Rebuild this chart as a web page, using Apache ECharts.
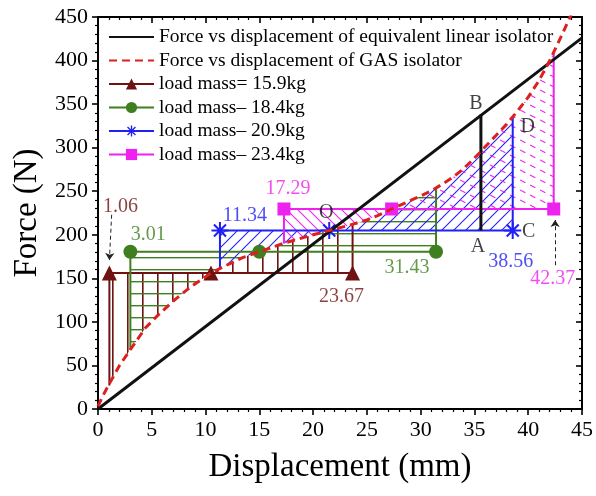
<!DOCTYPE html>
<html>
<head>
<meta charset="utf-8">
<script src="https://cdn.jsdelivr.net/npm/echarts@6/dist/echarts.min.js"></script>
<style>html,body{margin:0;padding:0;background:#fff}#c{width:596px;height:496px}</style>
</head>
<body>
<div id="c"></div>
<script>
// ---- data ----
const gasX = [0, 0.4, 1.1, 2.0, 3.0, 4.4, 5.6, 7.1, 8.7, 10.5, 11.6, 13.5, 15.0, 17.2, 19.4, 21.5, 23.4, 25, 26, 27.3, 28, 29, 30, 31, 32, 33, 34, 35, 36, 37, 38, 39, 40, 41, 42, 43, 44];
const gasY = [3, 14, 30, 50, 68, 93, 108, 125, 141, 156, 163, 174, 180.5, 190, 198, 205, 211, 217, 222, 229.6, 233.5, 239, 244.5, 250.5, 258, 266, 276, 288, 301, 314, 327, 342, 358, 377, 400, 426, 453];
const linearX = [0, 45];
const linearY = [0, 426];
const lineNames = ['Force vs displacement of equivalent linear isolator', 'Force vs displacement of GAS isolator'];
const massNames = ['load mass= 15.9kg', 'load mass\u2013 18.4kg', 'load mass\u2013 20.9kg', 'load mass\u2013 23.4kg'];
const loadForce = [156, 180.5, 205, 229.6];
const startX = [1.06, 3.01, 11.34, 17.29];
const eqX = [10.5, 15.0, 21.5, 27.3];
const endX = [23.67, 31.43, 38.56, 42.37];
const startCurveY = [27, 68, 161, 190];
const endCurveY = [211, 254, 334, 410];
const abX = 35.6;
const abY = [205, 338];
const arrow1 = [[1.27, 223], [1.06, 171]];
const arrow2 = [[42.5, 165], [42.5, 217]];
const xMin = 0, xMax = 45, xStep = 5;
const yMin = 0, yMax = 450, yStep = 50;

// ---- styles ----
const FONT = 'Liberation Serif';
const COLORS = ['#6e1212', '#3f7f1f', '#2020f5', '#ee22ee'];
const SYMBOLS = ['triangle', 'circle',
  'path://M-10,-1.2L10,-1.2L10,1.2L-10,1.2Z M-1.2,-10L1.2,-10L1.2,10L-1.2,10Z M-6.22,-7.92L7.92,6.22L6.22,7.92L-7.92,-6.22Z M-7.92,6.22L6.22,-7.92L7.92,-6.22L-6.22,7.92Z',
  'rect'];
const SIZES = [15, 14, 17, 13];

function pat(w, h, fn) {
  const c = document.createElement('canvas');
  c.width = w; c.height = h;
  const g = c.getContext('2d');
  fn(g, w, h);
  return { image: c, repeat: 'repeat' };
}
function segs(g, list) {
  list.forEach(s => { g.beginPath(); g.moveTo(s[0], s[1]); g.lineTo(s[2], s[3]); g.stroke(); });
}
const vBrown = () => pat(15, 4, g => { g.fillStyle = COLORS[0]; g.fillRect(7, 0, 1.6, 4); });
const hGreen = () => pat(4, 12, g => { g.fillStyle = COLORS[1]; g.fillRect(0, 5, 4, 1.4); });
const dBlue = () => pat(12, 12, g => { g.strokeStyle = COLORS[2]; g.lineWidth = 1.1; segs(g, [[0, 12, 12, 0], [-6, 6, 6, -6], [6, 18, 18, 6]]); });
const patterns = [
  [vBrown(), vBrown()],
  [hGreen(), hGreen()],
  [dBlue(), dBlue()],
  [pat(11, 11, g => { g.strokeStyle = COLORS[3]; g.lineWidth = 1.1; segs(g, [[0, 0, 11, 11], [-5.5, 5.5, 5.5, 16.5], [5.5, -5.5, 16.5, 5.5]]); }),
   pat(20, 10, g => { g.strokeStyle = COLORS[3]; g.lineWidth = 1.1; g.setLineDash([6, 5.18]); segs(g, [[0, 0, 20, 10], [0, -10, 20, 0], [0, 10, 20, 20]]); })]
];

function region(xa, ya, xb, yb, F) {
  const pts = [[xa, ya]];
  gasX.forEach((x, i) => { if (x > xa && x < xb) pts.push([x, gasY[i]]); });
  pts.push([xb, yb], [xb, F], [xa, F]);
  return pts;
}

const series = [];
// hatched regions
for (let k = 0; k < 4; k++) {
  const polys = [
    region(startX[k], startCurveY[k], eqX[k], loadForce[k], loadForce[k]),
    region(eqX[k], loadForce[k], endX[k], endCurveY[k], loadForce[k])
  ];
  series.push({
    type: 'custom', name: 'hatch' + k, silent: true, clip: true, z: 1,
    data: polys.map(p => p[0]),
    renderItem: (params, api) => ({
      type: 'polygon',
      shape: { points: polys[params.dataIndex].map(p => api.coord(p)) },
      style: { fill: patterns[k][params.dataIndex], stroke: null }
    })
  });
}
// load mass lines
for (let k = 0; k < 4; k++) {
  series.push({
    type: 'line', name: massNames[k], z: 4,
    symbol: SYMBOLS[k], symbolSize: SIZES[k], showAllSymbol: true,
    itemStyle: { color: COLORS[k] },
    lineStyle: { color: COLORS[k], width: 2 },
    data: [
      { value: [startX[k], startCurveY[k]], symbol: 'none' },
      [startX[k], loadForce[k]], [eqX[k], loadForce[k]], [endX[k], loadForce[k]],
      { value: [endX[k], endCurveY[k]], symbol: 'none' }
    ]
  });
}
series.push({
  type: 'line', name: lineNames[0], z: 5,
  symbol: 'none', lineStyle: { color: '#111', width: 3 }, itemStyle: { color: '#111' },
  data: linearX.map((x, i) => [x, linearY[i]])
});
series.push({
  type: 'line', name: lineNames[1], z: 6,
  symbol: 'none', lineStyle: { color: '#dd1f1f', width: 3, type: [8, 5] }, itemStyle: { color: '#dd1f1f' },
  data: gasX.map((x, i) => [x, gasY[i]])
});
series.push({
  type: 'line', name: 'AB', z: 5, symbol: 'none', silent: true,
  lineStyle: { color: '#111', width: 3 },
  data: [[abX, abY[0]], [abX, abY[1]]]
});
series.push({
  type: 'lines', coordinateSystem: 'cartesian2d', z: 7, silent: true,
  symbol: ['none', 'arrow'], symbolSize: 7,
  lineStyle: { color: '#222', width: 1, type: [4, 3], opacity: 1 },
  data: [{ coords: arrow1 }, { coords: arrow2 }]
});
function ann(x, y, text, color, off) {
  return { value: [x, y], label: { formatter: text, color: color, offset: off } };
}
series.push({
  type: 'scatter', name: 'labels', symbolSize: 0, z: 10, silent: true,
  label: { show: true, position: 'inside', fontFamily: FONT, fontSize: 20, align: 'center', verticalAlign: 'middle' },
  data: [
    ann(startX[0], loadForce[0], String(startX[0]), COLORS[0], [11, -66]),
    ann(startX[1], loadForce[1], String(startX[1]), COLORS[1], [18, -17]),
    ann(startX[2], loadForce[2], String(startX[2]), COLORS[2], [25, -15]),
    ann(startX[3], loadForce[3], String(startX[3]), COLORS[3], [4, -20]),
    ann(endX[0], loadForce[0], String(endX[0]), COLORS[0], [-11, 24]),
    ann(endX[1], loadForce[1], String(endX[1]), COLORS[1], [-29, 16]),
    ann(endX[2], loadForce[2], String(endX[2]), COLORS[2], [-2, 31]),
    ann(endX[3], loadForce[3], String(endX[3]), COLORS[3], [-1, 70]),
    ann(eqX[2], loadForce[2], 'O', '#111', [-3, -18]),
    ann(abX, abY[0], 'A', '#111', [-3, 16]),
    ann(abX, abY[1], 'B', '#111', [-5, -11]),
    ann(endX[2], loadForce[2], 'C', '#111', [16, 1]),
    ann(endX[2], endCurveY[2], 'D', '#111', [15, 9])
  ]
});

const axisCommon = {
  type: 'value', splitLine: { show: false },
  axisLine: { show: true, onZero: false, lineStyle: { color: '#000', width: 2 } },
  minorTick: { show: true, splitNumber: 5, length: 3, lineStyle: { color: '#000', width: 1.2 } },
  axisTick: { show: true, length: 6, lineStyle: { color: '#000', width: 1.6 } },
  axisLabel: { fontFamily: FONT, fontSize: 22, color: '#000', margin: 10 }
};
const chart = echarts.init(document.getElementById('c'), null, { renderer: 'canvas' });
chart.setOption({
  animation: false,
  backgroundColor: '#fff',
  grid: { left: 98, right: 13, top: 17, bottom: 87, containLabel: false },
  legend: {
    orient: 'vertical', left: 108, top: 27, padding: 0,
    itemWidth: 45, itemHeight: 14, itemGap: 3.5,
    textStyle: { fontFamily: FONT, fontSize: 19.5, color: '#000', lineHeight: 20 },
    data: lineNames.map(n => ({ name: n, itemStyle: { opacity: 0 } })).concat(massNames)
  },
  xAxis: [
    Object.assign({}, axisCommon, {
      min: xMin, max: xMax, interval: xStep, position: 'bottom',
      name: 'Displacement (mm)', nameLocation: 'middle', nameGap: 42,
      nameTextStyle: { fontFamily: FONT, fontSize: 33, color: '#000' }
    }),
    Object.assign({}, axisCommon, {
      min: xMin, max: xMax, interval: xStep, position: 'top',
      axisTick: { show: true, inside: true, length: 6, lineStyle: { color: '#000', width: 1.6 } },
      minorTick: { show: true, splitNumber: 5, length: 3, lineStyle: { color: '#000', width: 1.2 } },
      axisLabel: { show: false }
    })
  ],
  yAxis: [
    Object.assign({}, axisCommon, {
      min: yMin, max: yMax, interval: yStep, position: 'left',
      name: 'Force (N)', nameLocation: 'middle', nameGap: 51,
      nameTextStyle: { fontFamily: FONT, fontSize: 33, color: '#000' }
    }),
    Object.assign({}, axisCommon, {
      min: yMin, max: yMax, interval: yStep, position: 'right',
      axisTick: { show: true, inside: true, length: 6, lineStyle: { color: '#000', width: 1.6 } },
      minorTick: { show: true, splitNumber: 5, length: 3, lineStyle: { color: '#000', width: 1.2 } },
      axisLabel: { show: false }
    })
  ],
  series: series
});
</script>
</body>
</html>
